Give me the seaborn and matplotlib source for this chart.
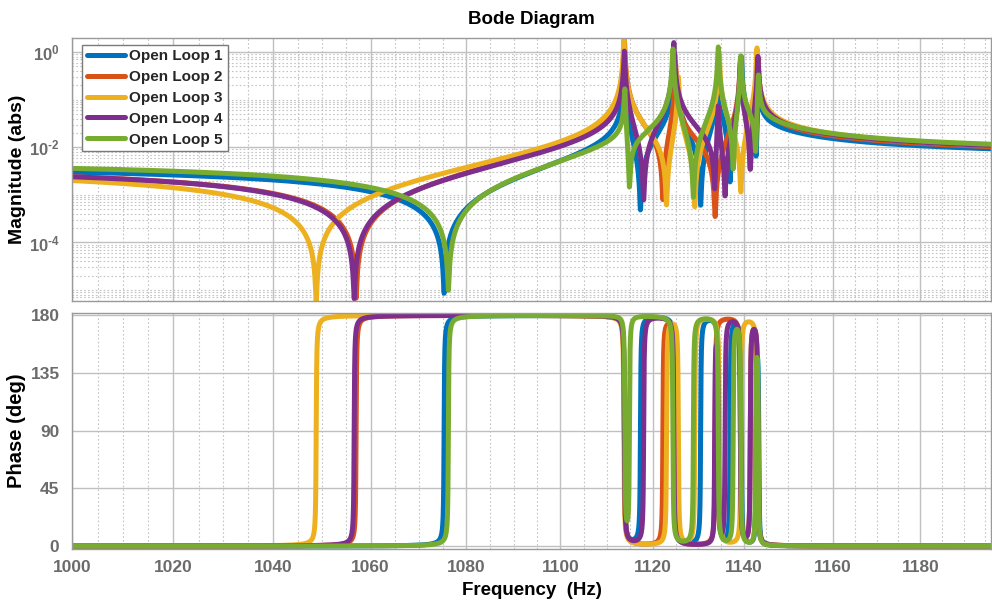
import numpy as np
import pandas as pd
import matplotlib
matplotlib.use("Agg")
import matplotlib.pyplot as plt
import seaborn as sns
from matplotlib.ticker import FixedLocator, NullFormatter, LogLocator, FuncFormatter
from matplotlib.lines import Line2D

# ---------------- data ----------------
loop_labels = ["Open Loop 1", "Open Loop 2", "Open Loop 3", "Open Loop 4", "Open Loop 5"]
loop_colors = ["#0072BD", "#D95319", "#EDB120", "#7E2F8E", "#77AC30"]

# anti-resonance (zero) and resonance (pole) frequencies, Hz
zeros_1 = [1075.3, 1117.3, 1130.5, 1137.0, 1142.8]
poles_1 = [1113.8, 1124.8, 1134.5, 1139.5, 1143.4]
zeros_2 = [1057.0, 1122.2, 1133.7, 1141.5]
poles_2 = [1113.8, 1125.0, 1139.3, 1143.2]
zeros_3 = [1048.8, 1123.0, 1129.2, 1139.4]
poles_3 = [1113.7, 1125.6, 1134.6, 1143.0]
zeros_4 = [1056.6, 1118.0, 1133.6, 1135.9, 1141.5]
poles_4 = [1113.8, 1124.6, 1134.4, 1139.3, 1143.2]
zeros_5 = [1076.2, 1114.9, 1128.9, 1137.7, 1142.7]
poles_5 = [1113.9, 1124.4, 1134.4, 1139.4, 1143.3]

# magnitude read at 1000 Hz
mag_at_1000 = [3.0e-3, 2.4e-3, 2.0e-3, 2.4e-3, 3.6e-3]
# damping ratios
zeta_zero = [8e-5, 8e-5, 8e-5, 8e-5, 8e-5]
zeta_pole = [8e-5, 8e-5, 8e-5, 8e-5, 8e-5]

x_ticks = [1000, 1020, 1040, 1060, 1080, 1100, 1120, 1140, 1160, 1180]
mag_ticks = [1e-4, 1e-2, 1e0]
phase_ticks = [0, 45, 90, 135, 180]
f_min, f_max = 1000.0, 1196.4

zeros_all = [zeros_1, zeros_2, zeros_3, zeros_4, zeros_5]
poles_all = [poles_1, poles_2, poles_3, poles_4, poles_5]

# ---------------- build frequency response ----------------
freq = np.geomspace(f_min, f_max, 60000)


def factor(f, r, z):
    return 1.0 - (f / r) ** 2 + 1j * 2.0 * z * f / r


frames = []
for lab, zs, ps, m0, zz, zp in zip(loop_labels, zeros_all, poles_all,
                                   mag_at_1000, zeta_zero, zeta_pole):
    num = np.ones_like(freq, dtype=complex)
    ph = np.zeros_like(freq)
    for r in zs:
        fac = factor(freq, r, zz)
        num *= fac
        ph += np.degrees(np.angle(fac))
    for r in ps:
        fac = factor(freq, r, zp)
        num /= fac
        ph -= np.degrees(np.angle(fac))
    mag = np.abs(num)
    mag = mag * m0 / mag[0]
    frames.append(pd.DataFrame({"freq": freq, "mag": mag, "phase": ph, "loop": lab}))
df = pd.concat(frames, ignore_index=True)

# ---------------- figure ----------------
sns.set_theme(style="white")
plt.rcParams["font.family"] = ["Liberation Sans", "DejaVu Sans"]
plt.rcParams["font.weight"] = "bold"
plt.rcParams["mathtext.fontset"] = "custom"
plt.rcParams["mathtext.rm"] = "Liberation Sans:bold"
plt.rcParams["mathtext.bf"] = "Liberation Sans:bold"
plt.rcParams["mathtext.default"] = "bf"

fig = plt.figure(figsize=(9.92, 6.01), dpi=100)
L = 72 / 992
W = 919 / 992
ax1 = fig.add_axes([L, 1 - 301 / 601, W, (301 - 38) / 601])
ax2 = fig.add_axes([L, 1 - 549 / 601, W, (549 - 313) / 601])

tick_col = "#6b6b6b"
grid_major = dict(color="#c0c0c0", linestyle="-", linewidth=1.0)
grid_minor = dict(color="#c4c4c4", linestyle=(0, (1.5, 2)), linewidth=0.8)

sns.lineplot(data=df, x="freq", y="mag", hue="loop", palette=loop_colors,
             estimator=None, sort=False, linewidth=3.6, ax=ax1, legend=False)
sns.lineplot(data=df, x="freq", y="phase", hue="loop", palette=loop_colors,
             estimator=None, sort=False, linewidth=3.6, ax=ax2, legend=False)

for ax in (ax1, ax2):
    ax.set_xscale("log")
    ax.set_xlim(f_min, f_max)
    ax.xaxis.set_major_locator(FixedLocator(x_ticks))
    ax.xaxis.set_minor_locator(FixedLocator([f for f in range(1005, 1200, 5) if f % 20 != 0]))
    ax.xaxis.set_minor_formatter(NullFormatter())
    ax.grid(True, which="major", **grid_major)
    ax.grid(True, which="minor", **grid_minor)
    ax.set_axisbelow(True)
    for s in ax.spines.values():
        s.set_color("#9a9a9a")
        s.set_linewidth(1.0)
    ax.tick_params(which="both", direction="in", colors="#9a9a9a",
                   labelcolor=tick_col, labelsize=12.5)
    ax.tick_params(which="major", length=5)
    ax.tick_params(which="minor", length=3)
    ax.tick_params(axis="y", which="minor", length=0)
    ax.tick_params(axis="y", which="major", pad=9)
    ax.tick_params(axis="x", which="major", pad=8)


def mag_label(v, p):
    e = int(round(np.log10(v)))
    s = str(abs(e)) if e >= 0 else "\u2010" + str(abs(e))
    return r"$10^{%s}$" % s


ax1.set_yscale("log")
ax1.set_ylim(5.9e-6, 1.97)
ax1.yaxis.set_major_locator(FixedLocator(mag_ticks))
ax1.yaxis.set_major_formatter(FuncFormatter(mag_label))
ax1.yaxis.set_minor_locator(LogLocator(base=10, subs=np.arange(1, 10), numticks=20))
ax1.yaxis.set_minor_formatter(NullFormatter())
ax1.tick_params(axis="y", labelsize=12)
ax1.tick_params(axis="x", labelbottom=False)
ax1.set_xlabel("")
ax1.set_ylabel("Magnitude (abs)", fontsize=14, fontweight="bold", color="black")
ax1.yaxis.set_label_coords(-46 / 919, 0.5)
ax1.set_title("Bode Diagram", fontsize=13.5, fontweight="bold", color="black", pad=10)

ax2.set_ylim(-2.2, 181.6)
ax2.yaxis.set_major_locator(FixedLocator(phase_ticks))
ax2.set_ylabel("Phase (deg)", fontsize=14.5, fontweight="bold", color="black")
ax2.yaxis.set_label_coords(-46 / 919, 0.5)
ax2.set_xlabel("Frequency  (Hz)", fontsize=13.5, fontweight="bold", color="black", labelpad=5)
ax2.xaxis.set_major_formatter(FuncFormatter(lambda v, p: "%d" % v))

handles = [Line2D([0], [0], color=c, lw=3.6) for c in loop_colors]
leg = ax1.legend(handles, loop_labels, loc="upper left", bbox_to_anchor=(0.011, 0.975),
                 prop=dict(weight="bold", size=11), handlelength=2.5, handletextpad=0.3,
                 labelspacing=0.45, borderpad=0.3, borderaxespad=0.0,
                 frameon=True, fancybox=False, framealpha=1.0)
leg.get_frame().set_edgecolor("#7a7a7a")
leg.get_frame().set_linewidth(1.0)

fig.savefig("out.png", dpi=100)
